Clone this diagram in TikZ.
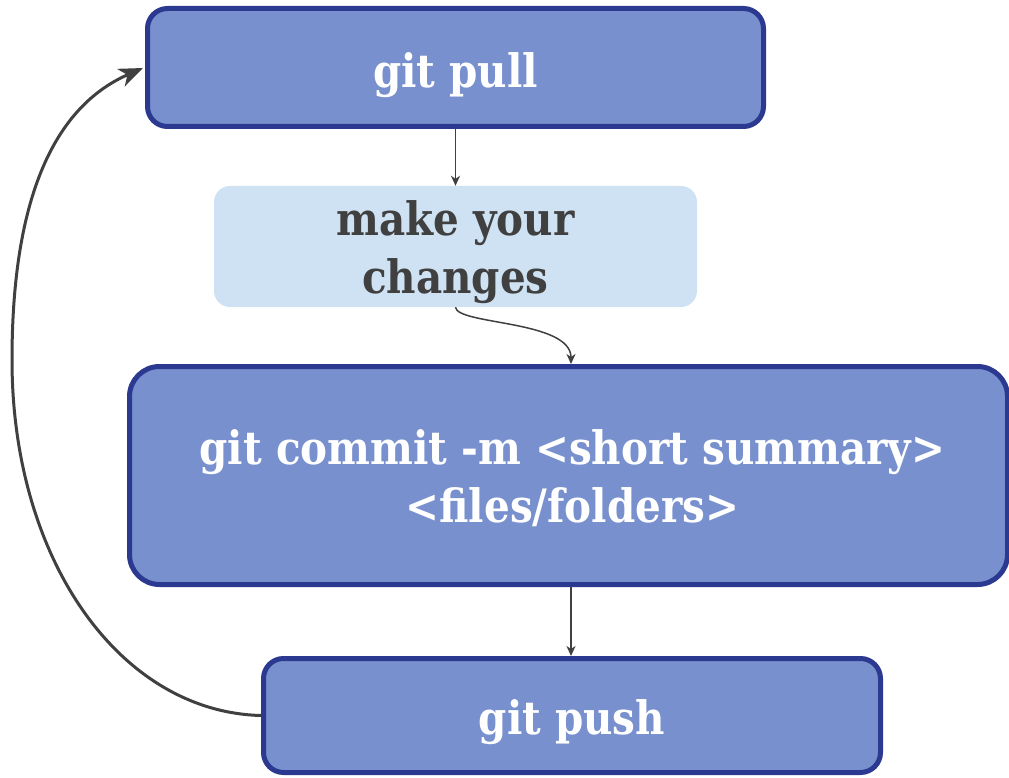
\documentclass[tikz,border=0pt]{standalone}
\usepackage{fontspec}
\setmainfont{DejaVu Serif}[FakeStretch=0.88]
\usetikzlibrary{arrows.meta}
\definecolor{boxfill}{HTML}{7890CD}
\definecolor{boxline}{HTML}{2B3990}
\definecolor{lightfill}{HTML}{CFE2F3}
\definecolor{arrowcol}{HTML}{404040}
\tikzset{
  mainbox/.style={draw=boxline, line width=5pt, fill=boxfill, inner sep=0pt},
  lightbox/.style={fill=lightfill, inner sep=0pt, rounded corners=16pt},
  boxtext/.style={text=white, font=\bfseries\fontsize{46}{58}\selectfont, align=center, inner sep=0pt},
  darktext/.style={boxtext, text=arrowcol},
  thinarrow/.style={draw=arrowcol, line width=1.5pt, -{Stealth[length=10pt,width=9pt,inset=3pt]}},
  loopline/.style={draw=arrowcol, line width=3pt, -{Stealth[length=24pt,width=19pt,inset=7pt]}}
}
\begin{document}
\begin{tikzpicture}[x=1pt,y=-1pt]
\useasboundingbox (0,0) rectangle (1009,778);
\node[mainbox, rounded corners=20pt, minimum width=616pt, minimum height=118pt] (pull) at (455.5,67.5) {};
\node[boxtext] (pulltext) at ([yshift=-8pt]pull.center) {git pull};
\node[lightbox, minimum width=483pt, minimum height=121pt] (changes) at (455.5,246.5) {};
\node[darktext] (changestext) at ([yshift=-6pt]changes.center) {make your\\changes};
\node[mainbox, rounded corners=30pt, minimum width=878pt, minimum height=218pt] (commit) at (568.5,475.5) {};
\node[boxtext] (committext) at ([xshift=4pt,yshift=-3pt]commit.center) {git commit -m <short summary>\\<files/folders>};
\node[mainbox, rounded corners=20pt, minimum width=617pt, minimum height=114pt] (push) at (572,715.5) {};
\node[boxtext] (pushtext) at ([yshift=-7pt]push.center) {git push};
\coordinate (c1) at (12,360);
\draw[thinarrow] (pull.south) -- (changes.north);
\draw[thinarrow] (changes.south) .. controls (457,325) and (571,320) .. ([xshift=2.5pt]commit.north);
\draw[thinarrow] ([xshift=2.5pt]commit.south) -- ([xshift=-1pt]push.north);
\draw[loopline] (push.west) .. controls (120,712) and (12,560) .. (c1) .. controls (12,170) and (70,100) .. ([xshift=-2pt,yshift=-0.5pt]pull.west);
\end{tikzpicture}
\end{document}
